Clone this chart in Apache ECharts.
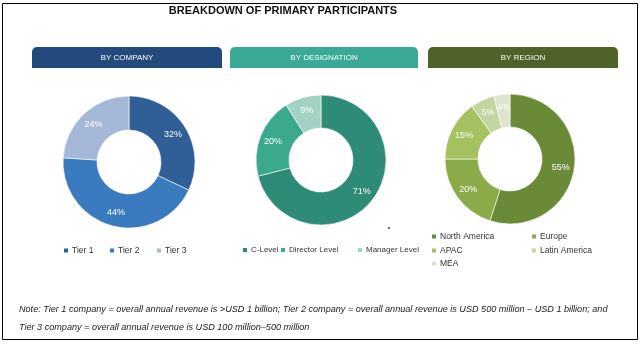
<!DOCTYPE html>
<html><head><meta charset="utf-8">
<script src="https://cdn.jsdelivr.net/npm/echarts@6/dist/echarts.min.js"></script>
<style>html,body{margin:0;padding:0;background:#fff}#c{width:641px;height:346px}</style>
</head><body><div id="c"></div>
<script>
const titleText = 'BREAKDOWN OF PRIMARY PARTICIPANTS';
const panelTitles = ['BY COMPANY', 'BY DESIGNATION', 'BY REGION'];
const companyNames = ['Tier 1', 'Tier 2', 'Tier 3'];
const companyValues = [32, 44, 24];
const designationNames = ['C-Level', 'Director Level', 'Manager Level'];
const designationValues = [71, 20, 9];
const regionNames = ['North America', 'Europe', 'APAC', 'Latin America', 'MEA'];
const regionValues = [55, 20, 15, 6, 4];
const noteLines = [
  'Note: Tier 1 company = overall annual revenue is >USD 1 billion; Tier 2 company = overall annual revenue is USD 500 million \u2013 USD 1 billion; and',
  'Tier 3 company = overall annual revenue is USD 100 million\u2013500 million'
];

const companyColors = ['#2F5F96', '#3A7BBF', '#A5B8D8'];
const designationColors = ['#2E8B77', '#3AA98E', '#A3D2C4'];
const regionColors = ['#6B8A38', '#8BAA48', '#A4C25F', '#C3D5A0', '#DCE5CB'];
const headerColors = ['#234A7C', '#3AAA96', '#4F6228'];

const FONT = 'Liberation Sans, Arial, sans-serif';

const chart = echarts.init(document.getElementById('c'), null, {renderer: 'canvas'});

const headerBoxes = [[32, 222], [230, 418], [428, 618]];
const graphics = [
  {type: 'rect', shape: {x: 2.5, y: 3.5, width: 635, height: 336}, style: {fill: 'none', stroke: '#000', lineWidth: 1}, z: 0},
  {type: 'circle', shape: {cx: 389, cy: 228, r: 1}, style: {fill: '#2830B0'}}
];
panelTitles.forEach((t, i) => {
  const [x0, x1] = headerBoxes[i];
  graphics.push({type: 'rect', shape: {x: x0, y: 47, width: x1 - x0, height: 21, r: [5, 5, 0, 0]}, style: {fill: headerColors[i]}});
  graphics.push({type: 'text', x: (x0 + x1) / 2, y: 57.5, style: {text: t, fill: '#fff', font: '8px ' + FONT, align: 'center', verticalAlign: 'middle'}});
});
noteLines.forEach((t, i) => {
  graphics.push({type: 'text', x: 19, y: 309 + i * 18, style: {text: t, fill: '#222', font: 'italic 9.1px ' + FONT, verticalAlign: 'middle'}});
});

function mkData(names, values, colors) {
  return names.map((n, i) => ({name: n, value: values[i], itemStyle: {color: colors[i]}}));
}
function pie(center, data, r) {
  return {
    type: 'pie', center: center, radius: r, startAngle: 90, clockwise: true,
    avoidLabelOverlap: false,
    itemStyle: {borderColor: '#fff', borderWidth: 0.6},
    label: {show: true, position: 'inside', color: '#fff', fontSize: 9, fontFamily: FONT, formatter: p => p.value + '%'},
    labelLine: {show: false},
    emphasis: {disabled: true},
    data: data
  };
}

const legendPos = [
  [62, 246, 8.5], [108, 246, 8.5], [155, 246, 8.5],
  [241, 246, 8], [279, 246, 8], [356, 246, 8],
  [430, 232, 8.5], [530, 232, 8.5], [430, 246, 8.5], [530, 246, 8.5], [430, 259, 8.5]
];
const allNames = companyNames.concat(designationNames, regionNames);
const legends = allNames.map((n, i) => ({
  data: [n], left: legendPos[i][0], top: legendPos[i][1],
  icon: 'rect', itemWidth: 6, itemHeight: 6, itemGap: 0, padding: 0, selectedMode: false,
  textStyle: {fontSize: legendPos[i][2], color: '#333', fontFamily: FONT, padding: [0, 0, 0, -2]}
}));

chart.setOption({
  animation: false,
  title: {text: titleText, left: 278, top: 0, textAlign: 'center', textStyle: {fontSize: 11, fontWeight: 'bold', color: '#111', fontFamily: FONT}},
  legend: legends,
  graphic: graphics,
  series: [
    pie([129, 162], mkData(companyNames, companyValues, companyColors), [32, 66]),
    pie([321, 160], mkData(designationNames, designationValues, designationColors), [32, 65]),
    pie([510, 159], mkData(regionNames, regionValues, regionColors), [32, 65])
  ]
});
</script></body></html>
